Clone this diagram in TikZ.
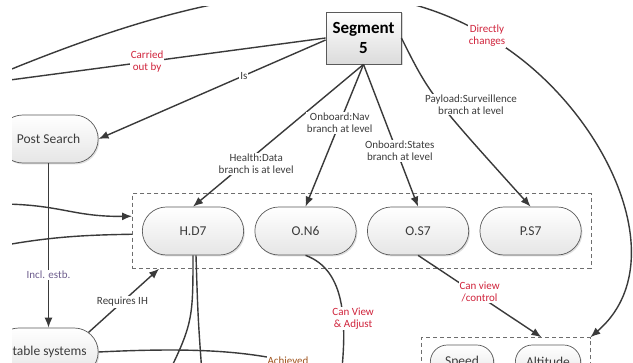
\documentclass[tikz,border=0pt]{standalone}
\usepackage{fontspec}
\setmainfont{Carlito}
\usetikzlibrary{shapes.misc, arrows.meta, positioning, fit, calc, shadows}
\definecolor{linegray}{HTML}{3A3A3A}
\definecolor{pillgray}{HTML}{5A5A5A}
\definecolor{dashgray}{HTML}{6E6E6E}
\definecolor{textgray}{HTML}{3C3C3C}
\definecolor{lblred}{HTML}{D0243C}
\definecolor{lblpurple}{HTML}{6E5E8E}
\definecolor{lblbrown}{HTML}{A0541E}
\tikzset{
  % concept pills
  pill/.style={rounded rectangle, draw=pillgray, line width=0.7pt,
               top color=white, bottom color=black!10,
               minimum width=108pt, minimum height=48pt,
               font=\fontsize{13.5}{15}\selectfont, text=textgray,
               drop shadow={shadow xshift=1.2pt, shadow yshift=-1.5pt, opacity=0.25}},
  % segment box
  segbox/.style={rectangle, draw=pillgray, line width=0.8pt,
                 top color=white, bottom color=black!14,
                 minimum width=75pt, minimum height=52pt, align=center,
                 font=\fontsize{17}{20}\selectfont\bfseries, text=black,
                 drop shadow={shadow xshift=1.5pt, shadow yshift=-1.5pt, opacity=0.3}},
  % dashed groups
  grp/.style={draw=dashgray, line width=0.8pt, dash pattern=on 4pt off 3pt},
  % connectors
  conn/.style={draw=linegray, line width=1.4pt},
  arr/.style={conn, -{Latex[length=10pt, width=8pt]}},
  % connector labels -- usage: node[lbl=lblred] ...
  lbl/.style={fill=white, inner sep=1pt, align=center,
              font=\fontsize{11}{12}\selectfont, text=#1},
  lbl/.default=textgray,
}
\begin{document}
\begin{tikzpicture}[x=1pt, y=-1pt]
\useasboundingbox (0,0) rectangle (633,363);
\fill[white] (0,0) rectangle (633,363);
\clip (12,7) rectangle (633,363);

% ── Top ──────────────────────────────────────────────────────────────────────
\node[segbox] (seg) at (363.5,38) {Segment\\5};

% ── Left column ──────────────────────────────────────────────────────────────
\node[pill, minimum width=106pt] (postsearch) at (48.5,139) {Post Search};
\node[pill, minimum width=110pt] (stable)     at (46.5,352) {Stable systems};

% ── Branch row ───────────────────────────────────────────────────────────────
\node[pill] (hd7) at (193,231) {H.D7};
\node[pill, right=10.5pt of hd7] (on6) {O.N6};
\node[pill, right=10.5pt of on6] (os7) {O.S7};
\node[pill, right=10.5pt of os7] (ps7) {P.S7};
\node[grp, fit=(hd7)(ps7), inner xsep=9.5pt, inner ysep=13pt] (grpbranch) {};

% ── Flight row ───────────────────────────────────────────────────────────────
\node[pill, minimum width=70pt, minimum height=34pt] (speed) at (462,362) {Speed};
\node[pill, minimum width=72pt, minimum height=34pt] (alt)   at (548,362) {Altitude};
\node[grp, fit=(speed)(alt), inner xsep=9pt, inner ysep=7pt] (grpflight) {};

% ── Free ends ────────────────────────────────────────────────────────────────
\coordinate (dcstart)  at (-10,78);
\coordinate (carryend) at (-5,82);
\coordinate (leftin)   at (-10,204);
\coordinate (leftout)  at (-10,248);
\coordinate (hdleft)   at (155,400);
\coordinate (hdright)  at (204,400);
\coordinate (achv)     at (288,361);
\coordinate (cvadj)    at (338,400);

% ── Relationships ────────────────────────────────────────────────────────────
% segment 5 - speed/altitude (directly changes)
\draw[arr] (dcstart) .. controls (200,-10) and (360,-40) .. (487,36)
  node[lbl=lblred]{Directly\\changes}
  .. controls (600,100) and (680,260) .. (grpflight.north east);

% segment 5 - left (carried out by)
\draw[conn] (seg.west) -- node[lbl=lblred, pos=0.54]{Carried\\out by} (carryend);

% segment 5 - post search (is)
\draw[arr] ([yshift=-2pt]seg.west) -- node[lbl, pos=0.36]{Is} (postsearch.east);

% segment 5 - branches
\draw[arr] (seg.south) -- node[lbl, pos=0.7, xshift=12pt]
  {Health:Data\\branch is at level} (hd7.north);
\draw[arr] (seg.south) -- node[lbl, pos=0.41]
  {Onboard:Nav\\branch at level} (on6.north);
\draw[arr] (seg.south) -- node[lbl, pos=0.61, xshift=3pt]
  {Onboard:States\\branch at level} (os7.north);
\draw[arr] (seg.east) .. controls (430,95) .. node[lbl, pos=0.52, xshift=30pt]
  {Payload:Surveillence\\branch at level} (ps7.north);

% post search - stable systems (incl. estb.)
\draw[arr] (postsearch.south) -- node[lbl=lblpurple, pos=0.68]{Incl. estb.}
  (postsearch.south |- stable.north);

% stable systems - branch group (requires IH)
\draw[arr] (stable.25) -- node[lbl, pos=0.48]{Requires IH}
  ($(grpbranch.south west)+(27,0)$);

% left inputs - branch group
\draw[arr] (leftin) .. controls (60,203) and (70,217) .. ($(grpbranch.north west)+(0,23)$);
\draw[conn] (leftout) .. controls (50,236) and (90,235) .. ($(grpbranch.north west)+(0,41)$);

% H.D7 - below
\draw[conn] (hd7.south) .. controls (193,325) .. (hdleft);
\draw[conn] ([xshift=3pt]hd7.south) .. controls (198,320) .. (hdright);

% stable systems - achieved
\draw[conn] (stable.east) .. controls (200,347) and (245,352) .. (achv)
  node[lbl=lblbrown]{Achieved};

% O.N6 - below (can view & adjust)
\draw[conn] (on6.south) .. controls (345,270) and (350,320) ..
  node[lbl=lblred, pos=0.6, xshift=10pt]{Can View\\\& Adjust} (cvadj);

% O.S7 - flight group (can view /control)
\draw[arr] (os7.south) -- node[lbl=lblred, pos=0.45, xshift=6pt]{Can view\\/control}
  ($(grpflight.north)+(36,0)$);

\end{tikzpicture}
\end{document}
